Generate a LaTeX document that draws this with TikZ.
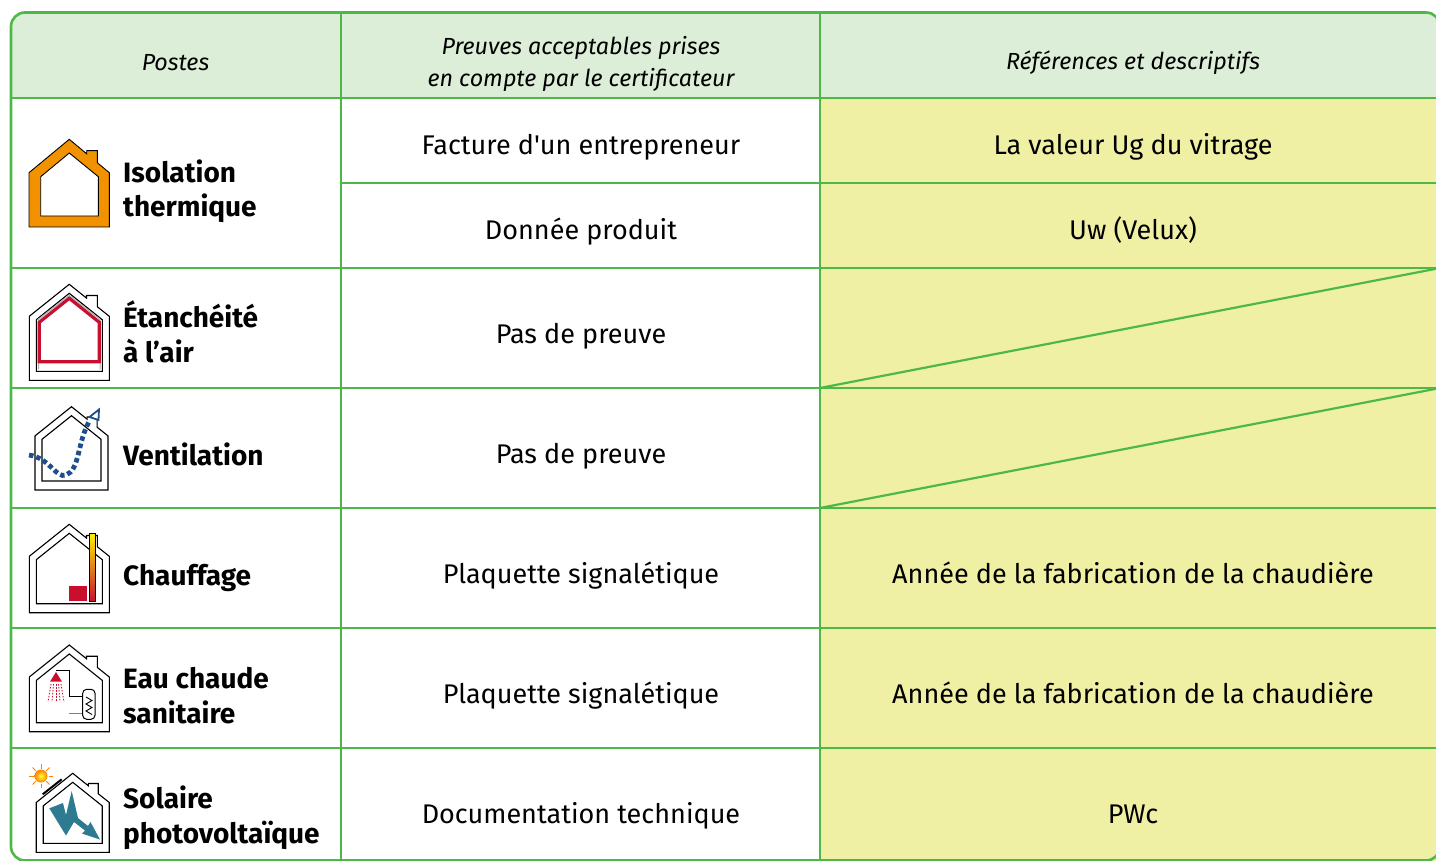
\documentclass[tikz,border=0pt]{standalone}
\usepackage{fontspec}
\setmainfont{Fira Sans}
\definecolor{tabgreen}{HTML}{4DB848}
\definecolor{headfill}{HTML}{DCEDD8}
\definecolor{cellyellow}{HTML}{F0F0A5}
\definecolor{isoorange}{HTML}{F39200}
\definecolor{airred}{HTML}{C8102E}
\definecolor{ventblue}{HTML}{1F4E8C}
\definecolor{boltteal}{HTML}{2E7A90}
\begin{document}
\begin{tikzpicture}[x=1pt,y=-1pt]
  \tikzset{rule/.style = {draw=tabgreen, line width=2.6}}
  \tikzset{diag/.style = {draw=tabgreen, line width=2.2}}
  \tikzset{head/.style = {font=\fontsize{23.3}{32}\selectfont\itshape, align=center}}
  \tikzset{cell/.style = {font=\fontsize{27}{34}\selectfont, anchor=base, inner sep=0}}
  \tikzset{poste/.style = {font=\fontsize{28}{34.5}\selectfont\bfseries, align=left, anchor=base west, inner sep=0}}
  \tikzset{wall/.style = {draw=black, line width=1.1}}
  \tikzset{pics/house/.style 2 args = {code={
    \draw[wall] (-#1,#2) -- (-#1,{0.8*#1}) -- (0,0) -- ({0.43*#1},{0.344*#1}) -- ({0.43*#1},{0.28*#1})
      -- ({0.7*#1},{0.28*#1}) -- ({0.7*#1},{0.56*#1}) -- (#1,{0.8*#1}) -- (#1,#2) -- cycle;
    \draw[wall] ({-#1+7},{#2-9}) -- ({-#1+7},{9+0.8*(#1-7)}) -- (0,9) -- ({#1-7},{9+0.8*(#1-7)}) -- ({#1-7},{#2-9}) -- cycle;
  }}}
  \useasboundingbox (0,0) rectangle (1436,861);

  % table
  \begin{scope}
    \clip (0,0) rectangle (1436,861);
    \fill[headfill] (11,98) [rounded corners=14] -- (11,12.5) -- (1440,12.5) [sharp corners] -- (1440,98) -- cycle;
    \fill[cellyellow] (820,98) rectangle (1440,861);
    \draw[rule, rounded corners=14] (11,12.5) rectangle (1440,860.5);
    \draw[rule] (341,12.5) -- (341,861);
    \draw[rule] (820,12.5) -- (820,861);
    \foreach \y in {98,268,388,508,628,748}
      \draw[rule] (11,\y) -- (1440,\y);
    \draw[rule] (341,183) -- (1440,183);
    \draw[diag] (820,388) -- (1440,268);
    \draw[diag] (820,508) -- (1440,388);
  \end{scope}

  % header
  \node[head] (hPostes) at (175.5,63) {Postes};
  \node[head] (hPreuves) at (581,64) {Preuves acceptables prises\\en compte par le certificateur};
  \node[head] (hRefs) at (1133,63) {Références et descriptifs};

  % postes
  \node[poste] (pIso) at (123,217) {Isolation\\thermique};
  \node[poste] (pEtan) at (123,362) {Étanchéité\\à l’air};
  \node[poste] (pVent) at (123,465) {Ventilation};
  \node[poste] (pChauf) at (123,585) {Chauffage};
  \node[poste] (pEau) at (123,723) {Eau chaude\\sanitaire};
  \node[poste] (pSol) at (123,843) {Solaire\\photovoltaïque};

  % preuves
  \node[cell] (prFacture) at (581,155) {Facture d\textquotesingle un entrepreneur};
  \node[cell] (prDonnee) at (581,240) {Donnée produit};
  \node[cell] (prPas1) at (581,343) {Pas de preuve};
  \node[cell] (prPas2) at (581,463) {Pas de preuve};
  \node[cell] (prPlaq1) at (581,583) {Plaquette signalétique};
  \node[cell] (prPlaq2) at (581,703) {Plaquette signalétique};
  \node[cell] (prDoc) at (581,823) {Documentation technique};

  % references
  \node[cell] (refUg) at (1133,155) {La valeur Ug du vitrage};
  \node[cell] (refUw) at (1133,240) {Uw (Velux)};
  \node[cell] (refAnnee1) at (1133,583) {Année de la fabrication de la chaudière};
  \node[cell] (refAnnee2) at (1133,703) {Année de la fabrication de la chaudière};
  \node[cell] (refPwc) at (1133,823) {PWc};

  % isolation icon
  \filldraw[isoorange, draw=black, line width=0.9, even odd rule]
    (29,227) -- (29,172.7) -- (69.3,139.3) -- (86.7,153.8) -- (86.7,150.7) -- (97.3,150.7) -- (97.3,162.7)
    -- (109.3,172.7) -- (109.3,227) -- cycle
    (40.7,216) -- (40.7,176.7) -- (69.3,153) -- (98.3,176.7) -- (98.3,216) -- cycle;

  % etancheite icon
  \pic at (69.3,284.3) {house={40}{96}};
  \draw[gray!60, line width=1.2] (38.5,369.3) -- (38.5,319.3) -- (69.3,295.5) -- (100.1,319.5) -- (100.1,369.3);
  \draw[airred, line width=3.2] (39.3,361.7) -- (39.3,322.3) -- (69.3,298.3) -- (99.3,322.3) -- (99.3,361.7) -- cycle;

  % ventilation icon
  \pic at (71.5,406.7) {house={36.5}{83.3}};
  \draw[ventblue, line width=4.8, dash pattern=on 4.5 off 3]
    (29,455) .. controls (50,458) and (56,479) .. (66,475) .. controls (80,470) and (77,442) .. (90,420);
  \filldraw[draw=ventblue, fill=white, line width=1.8] (89.5,417) -- (99,409.5) -- (98.5,420) -- cycle;

  % chauffage icon
  \pic at (69.3,524.3) {house={40}{88.4}};
  \fill[airred] (69,586) rectangle (86.7,601);
  \shade[top color=yellow!90!orange, middle color=orange, bottom color=airred] (89,533) rectangle (95,601);
  \draw[black, line width=0.8] (89,533) rectangle (95,601);

  % eau chaude icon
  \pic at (69.3,645) {house={40}{86.7}};
  \draw[black, line width=1] (56,670.7) -- (69.3,670.7) -- (69.3,696.7) -- (82.7,696.7);
  \draw[gray, line width=1.4] (69.3,713.3) -- (82.7,713.3);
  \draw[black, line width=1, rounded corners=4] (82.7,689.3) rectangle (95,719.3);
  \draw[black, line width=0.9] (86,697) -- (92,700.5) -- (86,704) -- (92,707.5) -- (86,711) -- (92,714.5);
  \fill[airred] (56,672) -- (62,681.7) -- (50,681.7) -- cycle;
  \foreach \a/\b in {51/48, 53.5/52, 56/56, 58.5/60, 61/64}
    \draw[airred, line width=0.9, dash pattern=on 1.5 off 1.5] (\a,684) -- (\b,702);

  % solaire icon
  \pic at (72.7,773.3) {house={36.5}{79}};
  \draw[black, line width=2] (42.7,794.3) -- (61.7,779.3);
  \foreach \r in {0,45,...,315}
    \draw[orange, line width=1] ([shift={(\r:7.5)}]41,776) -- ([shift={(\r:12)}]41,776);
  \shade[inner color=yellow!80, outer color=orange] (41,776) circle (6.5);
  \fill[boltteal] (49.3,808.3) -- (63,803) -- (66,815) -- (71.7,791) -- (78,818) -- (88,826) -- (90.5,822)
    -- (100,839.5) -- (82,833.5) -- (85,830.5) -- (74,822) -- (66,835.5) -- cycle;
\end{tikzpicture}
\end{document}
